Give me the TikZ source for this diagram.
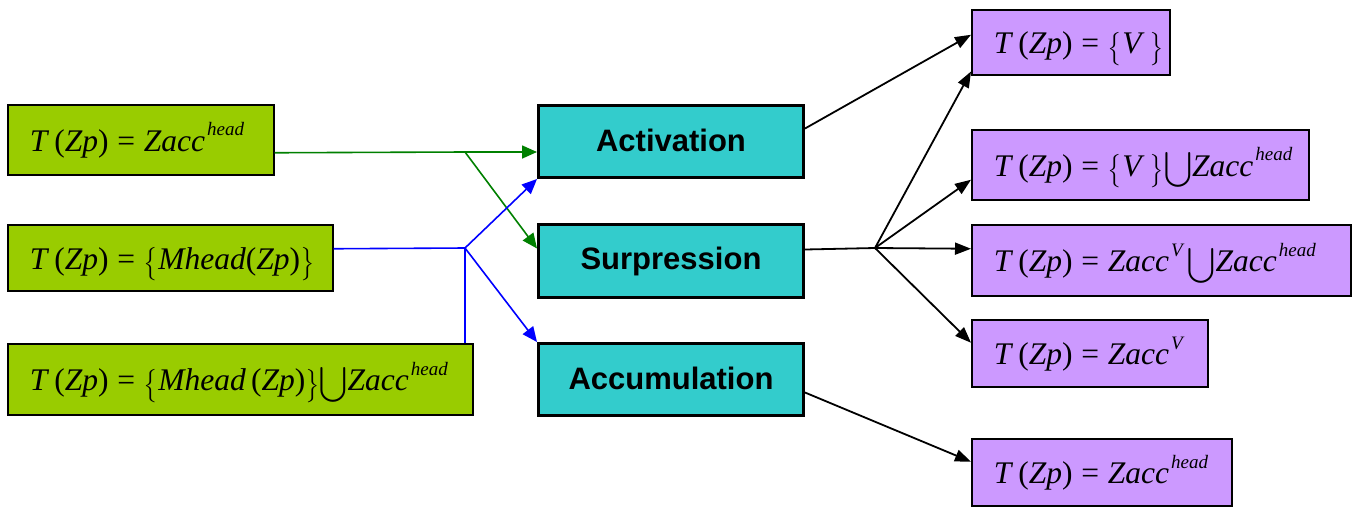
\documentclass[tikz,border=0pt]{standalone}
\usepackage{exscale}
\usepackage{graphicx}
\usepackage{fontspec}
\setmainfont{Liberation Serif}
\newfontfamily\labelfont{Liberation Sans}
\usetikzlibrary{arrows.meta,calc}

\definecolor{srcfill}{HTML}{99CC00}
\definecolor{opfill}{HTML}{33CCCC}
\definecolor{resfill}{HTML}{CC99FF}
\definecolor{gline}{HTML}{008000}
\definecolor{bline}{HTML}{0000FF}

% pieces of the formulas
\newcommand\lhs{\textit{T}\,(\textit{Zp})\;=\;}
\newcommand\sps[1]{\hspace{2pt}\raisebox{0.5em}{\fontsize{19}{19}\selectfont\itshape #1}}
\newcommand\lbr{\raisebox{-2pt}{\scalebox{1}[1.12]{$\bigl\{$}}}
\newcommand\rbr{\raisebox{-2pt}{\scalebox{1}[1.12]{$\bigr\}$}}}
\newcommand\ucup{$\displaystyle\bigcup$}
\newcommand\formula[1]{\makebox[\linewidth][l]{#1}}

\tikzset{
  formula box/.style={draw=black, line width=1.5pt, anchor=north west,
    inner xsep=22pt, inner ysep=0pt, align=left,
    text height=27pt, text depth=4pt,
    font=\fontsize{31.5}{33}\selectfont},
  src/.style={formula box, fill=srcfill},
  res/.style={formula box, fill=resfill},
  op/.style={draw=black, line width=3pt, fill=opfill, anchor=north west,
    inner sep=0pt, minimum width=265pt, align=center,
    font=\labelfont\bfseries\fontsize{31}{33}\selectfont},
  garrow/.style={draw=gline, line width=1.6pt, -{Triangle[length=15pt,width=13pt]}},
  barrow/.style={draw=bline, line width=1.6pt, -{Triangle[length=15pt,width=13pt]}},
  karrow/.style={draw=black, line width=1.8pt, -{Triangle[length=16pt,width=12pt]}},
}

\begin{document}
\begin{tikzpicture}[x=1pt,y=-1pt]
\useasboundingbox (0,0) rectangle (1356,507);

% source formulas
\node[src, text width=222pt, minimum height=70pt] (G1) at (7,104)
  {\formula{\lhs\textit{Zacc}\sps{head}}};
\node[src, text width=281pt, minimum height=66pt] (G2) at (7,224)
  {\formula{\lhs\lbr\textit{Mhead}(\textit{Zp})\rbr}};
\node[src, text width=421pt, minimum height=71pt] (G3) at (7,343)
  {\formula{\lhs\lbr\textit{Mhead}\,(\textit{Zp})\rbr\ucup\textit{Zacc}\sps{head}}};

% operations
\node[op, minimum height=72pt] (A) at (537,104) {\raisebox{3pt}{Activation}};
\node[op, minimum height=73pt] (S) at (537,223) {\raisebox{3pt}{Surpression}};
\node[op, minimum height=72pt] (C) at (537,342) {\raisebox{3pt}{Accumulation}};

% resulting formulas
\node[res, text width=154pt, minimum height=65pt] (P1) at (971,9)
  {\formula{\lhs\lbr\textit{V}\,\rbr}};
\node[res, text width=293pt, minimum height=70pt] (P2) at (971,129)
  {\formula{\lhs\lbr\textit{V}\,\rbr\ucup\textit{Zacc}\sps{head}}};
\node[res, text width=335pt, minimum height=71pt] (P3) at (971,224)
  {\formula{\lhs\textit{Zacc}\sps{V}\,\ucup\textit{Zacc}\sps{head}}};
\node[res, text width=192pt, minimum height=67pt] (P4) at (971,319)
  {\formula{\lhs\textit{Zacc}\sps{V}}};
\node[res, text width=216pt, minimum height=67pt] (P5) at (971,438)
  {\formula{\lhs\textit{Zacc}\sps{head}}};

% branch points
\coordinate (gj) at (465,152);
\coordinate (bj) at (465,248);
\coordinate (kj) at (875,248);

% green connectors
\draw[draw=gline, line width=1.6pt] ([yshift=-13pt]G1.east) -- (gj);
\draw[garrow] (gj) -- (A.west |- gj);
\draw[garrow] (gj) -- ([yshift=12.5pt]S.west);

% blue connectors
\draw[draw=bline, line width=1.6pt] ([yshift=9pt]G2.east) -- (bj);
\draw[draw=bline, line width=1.6pt] (G3.north -| bj) -- (bj);
\draw[barrow] (bj) -- (A.south west);
\draw[barrow] (bj) -- (C.north west);

% black connectors
\draw[karrow] ([yshift=13pt]A.east) -- ([yshift=7.5pt]P1.west);
\draw[draw=black, line width=1.8pt] ([yshift=11.5pt]S.east) -- (kj);
\draw[karrow] (kj) -- ([yshift=4pt]P1.south west);
\draw[karrow] (kj) -- ([yshift=-15pt]P2.west);
\draw[karrow] (kj) -- ([yshift=11.5pt]P3.west);
\draw[karrow] (kj) -- ([yshift=10.5pt]P4.west);
\draw[karrow] ([yshift=-13pt]C.east) -- ([yshift=10.5pt]P5.west);
\end{tikzpicture}
\end{document}
